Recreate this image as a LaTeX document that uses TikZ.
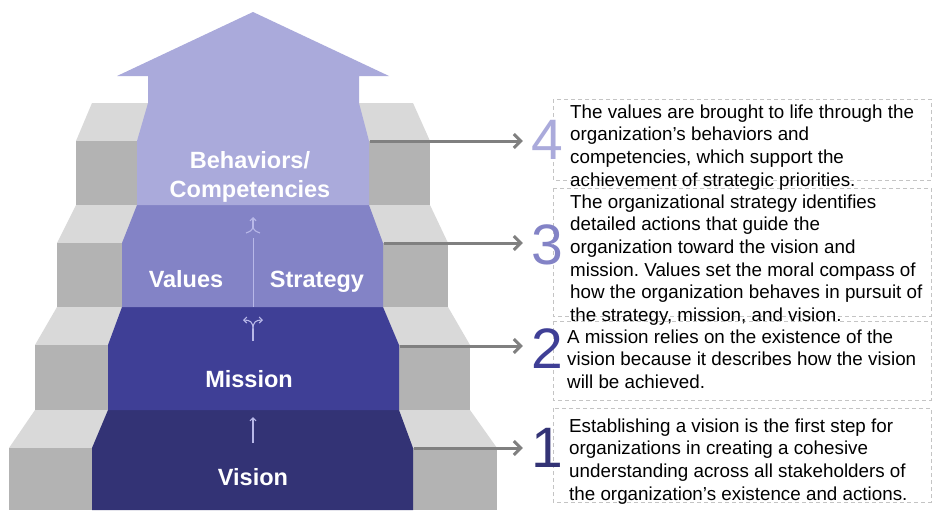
\documentclass[tikz,border=0pt]{standalone}
\usepackage{fontspec}
\setmainfont{Liberation Sans}
\usetikzlibrary{arrows.meta}
\definecolor{grayfront}{HTML}{B3B3B3}
\definecolor{graytop}{HTML}{D9D9D9}
\definecolor{cvision}{HTML}{333375}
\definecolor{cmission}{HTML}{3F3F96}
\definecolor{cvalues}{HTML}{8383C6}
\definecolor{cbehav}{HTML}{AAAADB}
\definecolor{conncol}{HTML}{808080}
\definecolor{boxline}{HTML}{C4C4C4}
\definecolor{iconc}{HTML}{B8B8E8}
\frenchspacing
\begin{document}
\begin{tikzpicture}[x=1pt,y=-1pt,
  steplabel/.style={text=white, font=\fontsize{23.5pt}{30pt}\selectfont\bfseries, anchor=base, inner sep=0},
  num/.style={font=\fontsize{57pt}{57pt}\selectfont, inner sep=0pt, inner xsep=8pt},
  desc/.style={font=\fontsize{18.8pt}{22.6pt}\selectfont\frenchspacing, align=left, anchor=north west, inner sep=0pt, text=black},
  dbox/.style={draw=boxline, dash pattern=on 4pt off 3pt, line width=0.8pt},
  connector/.style={draw=conncol, line width=3pt, -{Straight Barb[length=7pt,width=14pt]}},
  icon/.style={draw=iconc, line width=1.1pt},
  icontip/.style={-{Straight Barb[length=3pt,width=6pt]}},
]
\useasboundingbox (0,0) rectangle (943,522);
\fill[white] (0,0) rectangle (943,522);

% ---- gray stairs ----
\fill[graytop] (92,103) -- (413,103) -- (430,141) -- (76,141) -- cycle;
\fill[grayfront] (76,141) rectangle (430,205);
\fill[graytop] (76,205) -- (430,205) -- (448,243) -- (57,243) -- cycle;
\fill[grayfront] (57,243) rectangle (448,307);
\fill[graytop] (57,307) -- (448,307) -- (470,345) -- (35,345) -- cycle;
\fill[grayfront] (35,345) rectangle (470,410);
\fill[graytop] (35,410) -- (470,410) -- (497,448) -- (9,448) -- cycle;
\fill[grayfront] (9,448) rectangle (497,510);

% ---- purple blocks ----
\fill[cvision] (108,410) -- (399,410) -- (413,448) -- (413,510) -- (92,510) -- (92,448) -- cycle;
\fill[cmission] (122,307) -- (383,307) -- (399,345) -- (399,410) -- (108,410) -- (108,345) -- cycle;
\fill[cvalues] (137,205) -- (369,205) -- (383,243) -- (383,307) -- (122,307) -- (122,243) -- cycle;
\fill[cbehav] (253,12) -- (389,76) -- (359,76) -- (359,103) -- (369,141) -- (369,205)
   -- (137,205) -- (137,141) -- (148,103) -- (148,76) -- (117,76) -- cycle;

% ---- icons ----
\draw[iconc, line width=0.8pt] (253,238) -- (253,307);
\draw[icon, icontip] (253,229) -- (253,217);
\draw[icon] (246,233) .. controls (251,231) .. (253,228);
\draw[icon] (260,233) .. controls (255,231) .. (253,228);
\draw[icon] (253,341) -- (253,329);
\draw[icon, icontip] (253,329) .. controls (253,322) and (250,320) .. (243,320);
\draw[icon, icontip] (253,329) .. controls (253,322) and (256,320) .. (263,320);
\draw[icon, icontip] (253,443) -- (253,417);

% ---- step labels ----
\node[steplabel] (lbeh) at (250,168) {Behaviors/};
\node[steplabel] (lcomp) at (250,197) {Competencies};
\node[steplabel] (lval) at (186,287) {Values};
\node[steplabel] (lstr) at (317,287) {Strategy};
\node[steplabel] (lmis) at (249,387) {Mission};
\node[steplabel] (lvis) at (253,485) {Vision};

% ---- description boxes ----
\draw[dbox] (553,99) rectangle (931,180);
\draw[dbox] (553,188) rectangle (931,316);
\draw[dbox] (553,321) rectangle (931,400);
\draw[dbox] (553,408) rectangle (931,502);

\node[desc] (t4) at (570,104.5) {The values are brought to life through the\\organization’s behaviors and\\competencies, which support the\\achievement of strategic priorities.};
\node[desc] (t3) at (570,194.5) {The organizational strategy identifies\\detailed actions that guide the\\organization toward the vision and\\mission. Values set the moral compass of\\how the organization behaves in pursuit of\\the strategy, mission, and vision.};
\node[desc] (t2) at (567,329.5) {A mission relies on the existence of the\\vision because it describes how the vision\\will be achieved.};
\node[desc] (t1) at (569,418.5) {Establishing a vision is the first step for\\organizations in creating a cohesive\\understanding across all stakeholders of\\the organization’s existence and actions.};

% ---- numbers ----
\node[num, text=cbehav] (n4) at (547,140) {4};
\node[num, text=cvalues] (n3) at (547,245) {3};
\node[num, text=cmission] (n2) at (547,349) {2};
\node[num, text=cvision] (n1) at (547,448) {1};

% ---- connectors ----
\coordinate (s4) at (370,141);
\coordinate (s3) at (384,243);
\coordinate (s2) at (400,346);
\coordinate (s1) at (414,448);
\draw[connector] (s4) -- (s4 -| n4.west);
\draw[connector] (s3) -- (s3 -| n3.west);
\draw[connector] (s2) -- (s2 -| n2.west);
\draw[connector] (s1) -- (s1 -| n1.west);
\end{tikzpicture}
\end{document}
